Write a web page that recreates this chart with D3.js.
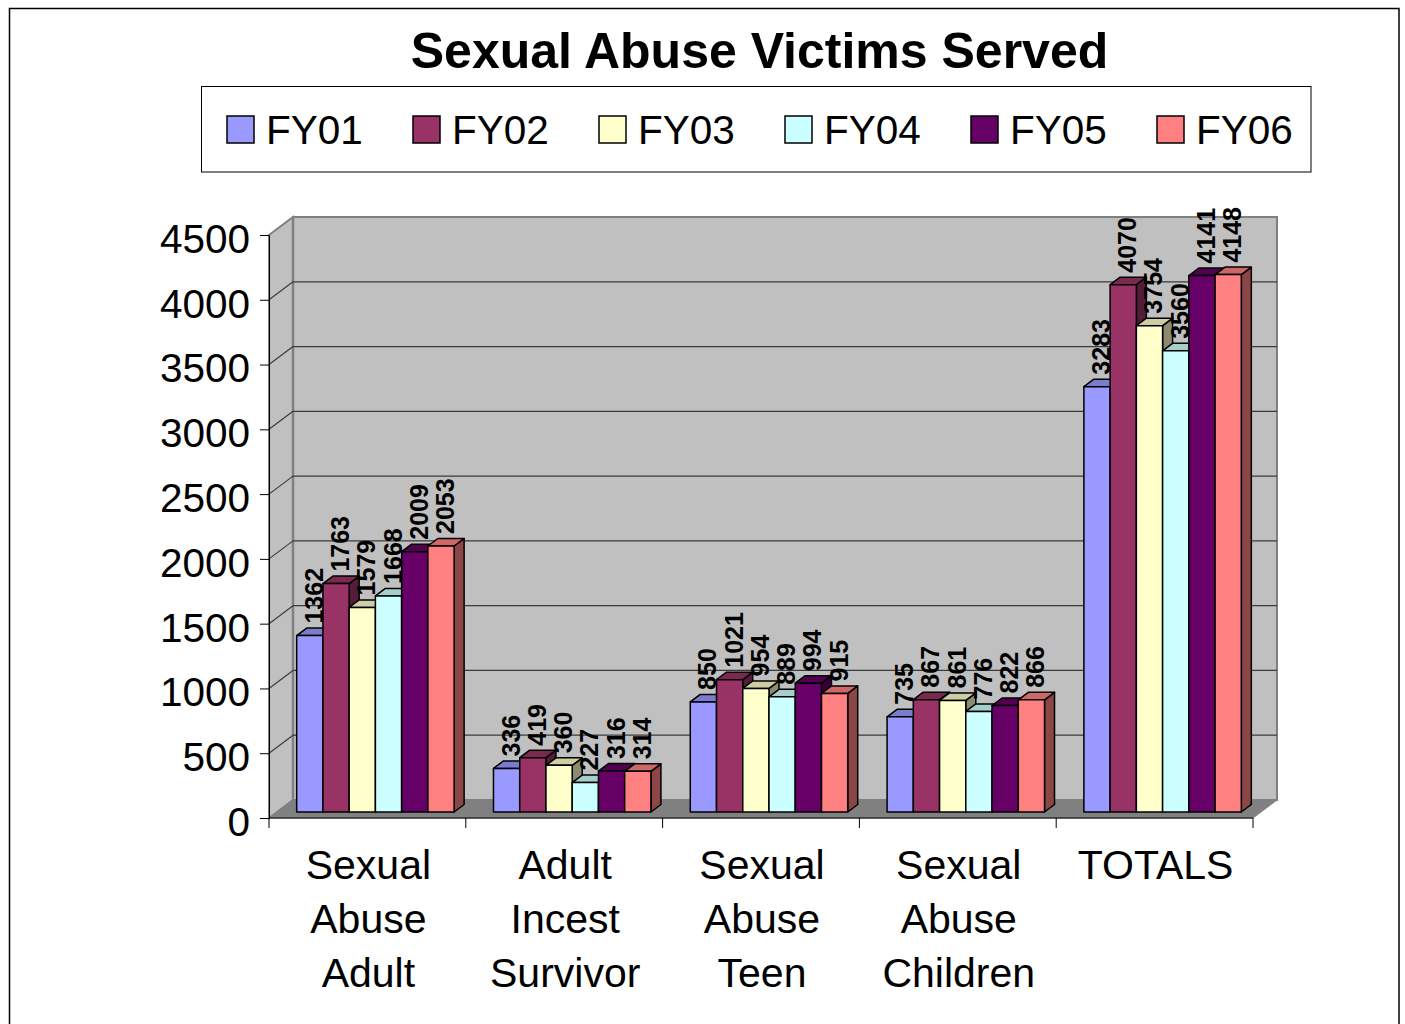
<!DOCTYPE html>
<html>
<head>
<meta charset="utf-8">
<script src="https://cdn.jsdelivr.net/npm/d3@7"></script>
<style>
  html, body { margin: 0; padding: 0; background: #fff; }
  svg { display: block; font-family: "Liberation Sans", Arial, sans-serif; }
</style>
</head>
<body>
<svg id="chart" width="1405" height="1024"></svg>
<script>
// Chart data
const categories = ["Sexual Abuse Adult", "Adult Incest Survivor", "Sexual Abuse Teen", "Sexual Abuse Children", "TOTALS"];
const categoryLines = [["Sexual", "Abuse", "Adult"], ["Adult", "Incest", "Survivor"], ["Sexual", "Abuse", "Teen"], ["Sexual", "Abuse", "Children"], ["TOTALS"]];
const seriesNames = ["FY01", "FY02", "FY03", "FY04", "FY05", "FY06"];
const FY01 = [1362, 336, 850, 735, 3283];
const FY02 = [1763, 419, 1021, 867, 4070];
const FY03 = [1579, 360, 954, 861, 3754];
const FY04 = [1668, 227, 889, 776, 3560];
const FY05 = [2009, 316, 994, 822, 4141];
const FY06 = [2053, 314, 915, 866, 4148];
const seriesValues = [FY01, FY02, FY03, FY04, FY05, FY06];
const seriesColors = ["#9999FF", "#993366", "#FFFFCC", "#CCFFFF", "#660066", "#FF8080"];
const yTicks = [0, 500, 1000, 1500, 2000, 2500, 3000, 3500, 4000, 4500];

const svg = d3.select("#chart");
const FONT = "\"Liberation Sans\", Arial, sans-serif";

// Front plane of the 3-D plot and the depth projection
const plotLeft = 269, plotRight = 1253, plotBottom = 818, plotTop = 235;
const depthDX = 24, depthDY = -18;           // full wall depth
const barFront = { dx: 8, dy: -6 };          // bar front face depth offset
const barDepth = { dx: 10, dy: -7.5 };       // bar thickness

const x = d3.scaleBand().domain(categories).range([plotLeft, plotRight]).padding(0);
const xi = d3.scaleBand().domain(seriesNames).range([0, x.bandwidth()])
  .paddingInner(0).paddingOuter(0.75);
const y = d3.scaleLinear().domain([0, 4500]).range([plotBottom, plotTop]);

// Outer chart border
svg.append("rect")
  .attr("x", 9.5).attr("y", 8.5).attr("width", 1389.5).attr("height", 1100)
  .attr("fill", "#fff").attr("stroke", "#000").attr("stroke-width", 1.5);

// Title
svg.append("text")
  .attr("x", 759.5).attr("y", 68)
  .attr("text-anchor", "middle")
  .attr("font-family", FONT).attr("font-weight", "bold").attr("font-size", 50)
  .text("Sexual Abuse Victims Served");

// Legend
const legend = svg.append("g");
legend.append("rect")
  .attr("x", 201.5).attr("y", 86.5).attr("width", 1109.5).attr("height", 85.5)
  .attr("fill", "#fff").attr("stroke", "#000").attr("stroke-width", 1);
seriesNames.forEach((name, i) => {
  const lx = 227 + i * 186;
  legend.append("rect")
    .attr("x", lx).attr("y", 116).attr("width", 27).attr("height", 27)
    .attr("fill", seriesColors[i]).attr("stroke", "#000").attr("stroke-width", 1.5);
  legend.append("text")
    .attr("x", lx + 39).attr("y", 144)
    .attr("font-family", FONT).attr("font-size", 40.5)
    .text(name);
});

// Walls and floor
const wall = svg.append("g");
const pts = a => a.map(p => p.join(",")).join(" ");
wall.append("polygon") // back wall
  .attr("points", pts([[plotLeft + depthDX, plotTop + depthDY], [plotRight + depthDX, plotTop + depthDY],
                       [plotRight + depthDX, plotBottom + depthDY], [plotLeft + depthDX, plotBottom + depthDY]]))
  .attr("fill", "#C0C0C0").attr("stroke", "#808080").attr("stroke-width", 2);
wall.append("polygon") // side wall
  .attr("points", pts([[plotLeft, plotTop], [plotLeft + depthDX, plotTop + depthDY],
                       [plotLeft + depthDX, plotBottom + depthDY], [plotLeft, plotBottom]]))
  .attr("fill", "#C0C0C0").attr("stroke", "#808080").attr("stroke-width", 2);
wall.append("polygon") // floor
  .attr("points", pts([[plotLeft, plotBottom], [plotLeft + depthDX, plotBottom + depthDY],
                       [plotRight + depthDX, plotBottom + depthDY], [plotRight, plotBottom]]))
  .attr("fill", "#808080").attr("stroke", "#808080").attr("stroke-width", 1);

// Gridlines on back and side walls
const grid = svg.append("g").attr("stroke", "#3a3a3a").attr("stroke-width", 1.2).attr("fill", "none");
yTicks.filter(v => v > 0 && v < 4500).forEach(v => {
  grid.append("line")
    .attr("x1", plotLeft + depthDX).attr("x2", plotRight + depthDX)
    .attr("y1", y(v) + depthDY).attr("y2", y(v) + depthDY);
  grid.append("line")
    .attr("x1", plotLeft).attr("x2", plotLeft + depthDX)
    .attr("y1", y(v)).attr("y2", y(v) + depthDY);
});
// back-wall edge drawn over the gridline ends
wall.append("line")
  .attr("x1", plotLeft + depthDX).attr("x2", plotLeft + depthDX)
  .attr("y1", plotTop + depthDY).attr("y2", plotBottom + depthDY)
  .attr("stroke", "#808080").attr("stroke-width", 2.5);

// Y axis
const yAxis = svg.append("g")
  .attr("transform", `translate(${plotLeft},0)`)
  .call(d3.axisLeft(y).tickValues(yTicks).tickSize(9).tickPadding(10).tickFormat(d3.format("d")));
yAxis.select(".domain").attr("stroke", "#000").attr("stroke-width", 1);
yAxis.selectAll(".tick line").attr("stroke", "#000").attr("stroke-width", 1);
yAxis.selectAll(".tick text")
  .attr("font-family", FONT).attr("font-size", 40.5).attr("fill", "#000")
  .attr("dy", "0.43em");

// X axis line and category boundary ticks
const xAxis = svg.append("g");
xAxis.append("line")
  .attr("x1", plotLeft).attr("x2", plotRight).attr("y1", plotBottom).attr("y2", plotBottom)
  .attr("stroke", "#000").attr("stroke-width", 1);
const boundaries = categories.map(c => x(c)).concat([plotRight]);
xAxis.selectAll("line.tick").data(boundaries).join("line")
  .attr("class", "tick")
  .attr("x1", d => d).attr("x2", d => d)
  .attr("y1", plotBottom).attr("y2", plotBottom + 10)
  .attr("stroke", "#000").attr("stroke-width", 1);

// Category labels
categories.forEach((c, ci) => {
  const t = xAxis.append("text")
    .attr("text-anchor", "middle")
    .attr("font-family", FONT).attr("font-size", 41);
  categoryLines[ci].forEach((line, li) => {
    t.append("tspan")
      .attr("x", x(c) + x.bandwidth() / 2 + 1)
      .attr("y", 879 + li * 54)
      .text(line);
  });
});

// 3-D bars
const bars = svg.append("g").attr("stroke", "#000").attr("stroke-width", 1.5).attr("stroke-linejoin", "round");
const labels = svg.append("g");
const barBase = plotBottom + barFront.dy;
const barW = xi.bandwidth();
categories.forEach((c, ci) => {
  seriesNames.forEach((s, si) => {
    const v = seriesValues[si][ci];
    const col = d3.color(seriesColors[si]);
    const xf = x(c) + xi(s) + barFront.dx;
    const yt = y(v) + barFront.dy;
    const g = bars.append("g");
    g.append("polygon") // right side face
      .attr("points", pts([[xf + barW, yt], [xf + barW + barDepth.dx, yt + barDepth.dy],
                           [xf + barW + barDepth.dx, barBase + barDepth.dy], [xf + barW, barBase]]))
      .attr("fill", col.darker(1.7));
    g.append("polygon") // top face
      .attr("points", pts([[xf, yt], [xf + barW, yt], [xf + barW + barDepth.dx, yt + barDepth.dy],
                           [xf + barDepth.dx, yt + barDepth.dy]]))
      .attr("fill", col.darker(0.6));
    g.append("rect") // front face
      .attr("x", xf).attr("y", yt).attr("width", barW).attr("height", barBase - yt)
      .attr("fill", col);

    labels.append("text")
      .attr("transform", `translate(${xf + barW / 2 + 4},${yt - 12}) rotate(-90)`)
      .attr("dominant-baseline", "central")
      .attr("font-family", FONT).attr("font-weight", "bold").attr("font-size", 25)
      .text(v);
  });
});
</script>
</body>
</html>
